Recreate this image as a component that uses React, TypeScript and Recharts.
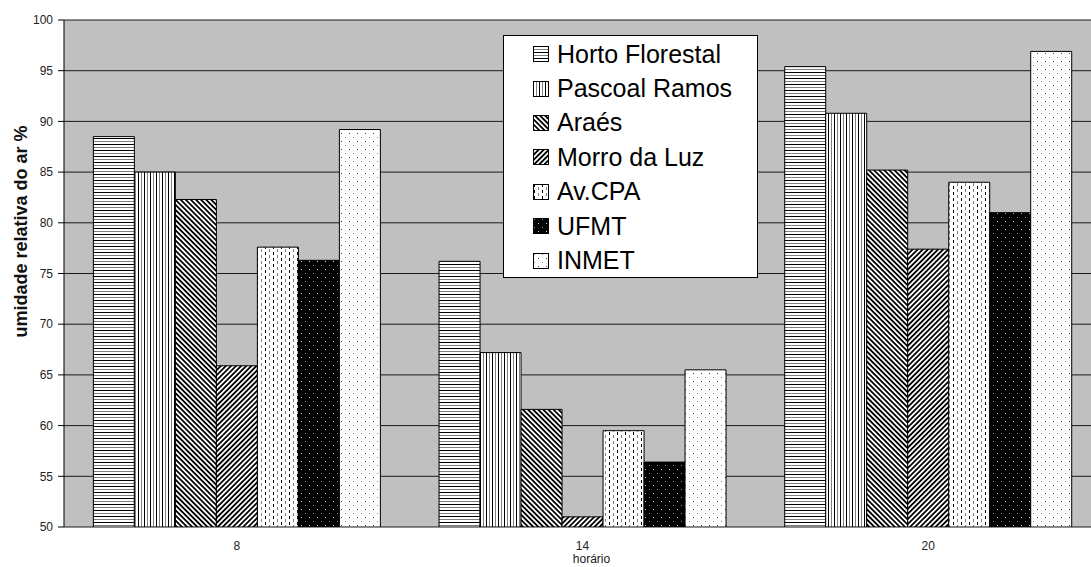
import React from 'react';
import { BarChart, Bar, XAxis, YAxis, CartesianGrid, Legend } from 'recharts';

// Relative air humidity (%) per station at each reading hour
const horarios = ['8', '14', '20'];
const hortoFlorestal = [88.5, 76.2, 95.4];
const pascoalRamos = [85.0, 67.2, 90.8];
const araes = [82.3, 61.6, 85.2];
const morroDaLuz = [65.9, 51.0, 77.4];
const avCPA = [77.6, 59.5, 84.0];
const ufmt = [76.3, 56.4, 81.0];
const inmet = [89.2, 65.5, 96.9];

const yTicks = [50, 55, 60, 65, 70, 75, 80, 85, 90, 95, 100];
// category boundaries (between the hour groups) on a 0..3 band scale
const boundaryTicks = [1, 2];

const series = [
  { key: 'horto', name: 'Horto Florestal', values: hortoFlorestal, pattern: 'pat-horto' },
  { key: 'pascoal', name: 'Pascoal Ramos', values: pascoalRamos, pattern: 'pat-pascoal' },
  { key: 'araes', name: 'Araés', values: araes, pattern: 'pat-araes' },
  { key: 'morro', name: 'Morro da Luz', values: morroDaLuz, pattern: 'pat-morro' },
  { key: 'avcpa', name: 'Av.CPA', values: avCPA, pattern: 'pat-avcpa' },
  { key: 'ufmt', name: 'UFMT', values: ufmt, pattern: 'pat-ufmt' },
  { key: 'inmet', name: 'INMET', values: inmet, pattern: 'pat-inmet' },
];

const data = horarios.map((h, i) => {
  const row: Record<string, string | number> = { hora: h };
  series.forEach((s) => {
    row[s.key] = s.values[i];
  });
  return row;
});

const FONT = '"Liberation Sans", Arial, sans-serif';

const Patterns = () => (
  <defs>
    <pattern id="pat-horto" patternUnits="userSpaceOnUse" width="6" height="6">
      <rect width="6" height="6" fill="#fff" />
      <rect y="0" width="6" height="1" fill="#000" />
      <rect y="3" width="6" height="1" fill="#808080" />
    </pattern>
    <pattern id="pat-pascoal" patternUnits="userSpaceOnUse" width="6" height="6">
      <rect width="6" height="6" fill="#fff" />
      <rect x="0" width="1" height="6" fill="#000" />
      <rect x="3" width="1" height="6" fill="#808080" />
    </pattern>
    <pattern id="pat-araes" patternUnits="userSpaceOnUse" width="3.6" height="3.6" patternTransform="rotate(-45)">
      <rect width="3.6" height="3.6" fill="#fff" />
      <rect width="1.8" height="3.6" fill="#000" />
    </pattern>
    <pattern id="pat-morro" patternUnits="userSpaceOnUse" width="3.6" height="3.6" patternTransform="rotate(45)">
      <rect width="3.6" height="3.6" fill="#fff" />
      <rect width="1.8" height="3.6" fill="#000" />
    </pattern>
    <pattern id="pat-avcpa" patternUnits="userSpaceOnUse" width="8" height="6">
      <rect width="8" height="6" fill="#fff" />
      <rect x="1" y="0" width="1" height="3" fill="#000" />
      <rect x="5" y="3" width="1" height="3" fill="#808080" />
    </pattern>
    <pattern id="pat-ufmt" patternUnits="userSpaceOnUse" width="8" height="8">
      <rect width="8" height="8" fill="#000" />
      <rect x="1" y="1" width="1" height="1" fill="#9a9a9a" />
      <rect x="5" y="5" width="1" height="1" fill="#d8d8d8" />
    </pattern>
    <pattern id="pat-inmet" patternUnits="userSpaceOnUse" width="8" height="8">
      <rect width="8" height="8" fill="#fff" />
      <rect x="1" y="1" width="1" height="1" fill="#8a8a8a" />
      <rect x="5" y="5" width="1" height="1" fill="#404040" />
    </pattern>
  </defs>
);

// Legend listed in series order, each swatch filled with the bar's hatch pattern
const LegendBox = () => (
  <div
    style={{
      background: '#fff',
      border: '1px solid #000',
      boxSizing: 'border-box',
      width: 255,
      height: 243,
      paddingTop: 1,
      paddingLeft: 29,
      fontFamily: FONT,
    }}
  >
    {series.map((s) => (
      <div key={s.key} style={{ display: 'flex', alignItems: 'center', height: 34.4 }}>
        <svg width={16} height={16} style={{ marginRight: 8, flex: 'none' }}>
          <rect x={0.5} y={0.5} width={15} height={15} fill={`url(#${s.pattern})`} stroke="#000" />
        </svg>
        <span style={{ fontSize: 25, lineHeight: '25px', color: '#000', whiteSpace: 'nowrap' }}>
          {s.name}
        </span>
      </div>
    ))}
  </div>
);

const YTitle = (props: any) => {
  const vb = props.viewBox || { x: 0, y: 0, height: 0 };
  const cx = vb.x + 21;
  const cy = vb.y + vb.height / 2 - 42;
  return (
    <text
      x={cx}
      y={cy}
      transform={`rotate(-90 ${cx} ${cy})`}
      textAnchor="middle"
      dominantBaseline="central"
      fontFamily={FONT}
      fontSize={18}
      fontWeight="bold"
      fill="#111"
    >
      umidade relativa do ar %
    </text>
  );
};

const XTitle = (props: any) => {
  const vb = props.viewBox || { x: 0, y: 0, width: 0, height: 0 };
  return (
    <text
      x={vb.x + vb.width / 2 + 9}
      y={vb.y + vb.height + 6}
      textAnchor="middle"
      fontFamily={FONT}
      fontSize={12}
      fill="#222"
    >
      horário
    </text>
  );
};

export default function App() {
  return (
    <div
      style={{
        position: 'fixed',
        top: 0,
        left: 0,
        width: 1091,
        height: 567,
        overflow: 'hidden',
        background: '#fff',
        fontFamily: FONT,
      }}
    >
      <BarChart
        width={1101}
        height={567}
        data={data}
        margin={{ top: 20, right: 0, bottom: 10, left: 0 }}
        barGap={0}
        barCategoryGap="8.5%"
      >
        <Patterns />
        <CartesianGrid vertical={false} stroke="#1a1a1a" fill="#c0c0c0" />
        <XAxis
          xAxisId="edge"
          type="number"
          domain={[0, 3]}
          ticks={boundaryTicks}
          allowDataOverflow
          height={0}
          tick={false}
          tickSize={6}
          axisLine={{ stroke: '#000' }}
          tickLine={{ stroke: '#000' }}
        />
        <XAxis
          xAxisId="cat"
          dataKey="hora"
          height={30}
          axisLine={false}
          tickLine={false}
          tickMargin={8}
          tick={{ fontSize: 12, fill: '#222', fontFamily: FONT }}
          label={<XTitle />}
        />
        <YAxis
          width={64}
          domain={[50, 100]}
          ticks={yTicks}
          allowDataOverflow
          interval={0}
          tickSize={6}
          tickMargin={5}
          axisLine={{ stroke: '#000' }}
          tickLine={{ stroke: '#000' }}
          tick={{ fontSize: 12, fill: '#222', fontFamily: FONT }}
          label={<YTitle />}
        />
        <Legend
          layout="vertical"
          align="center"
          verticalAlign="middle"
          content={<LegendBox />}
          wrapperStyle={{ left: 503, top: 35, width: 255, height: 243 }}
        />
        {series.map((s) => (
          <Bar
            key={s.key}
            xAxisId="cat"
            dataKey={s.key}
            name={s.name}
            fill={`url(#${s.pattern})`}
            stroke="#000"
            strokeWidth={1}
            isAnimationActive={false}
          />
        ))}
      </BarChart>
    </div>
  );
}
